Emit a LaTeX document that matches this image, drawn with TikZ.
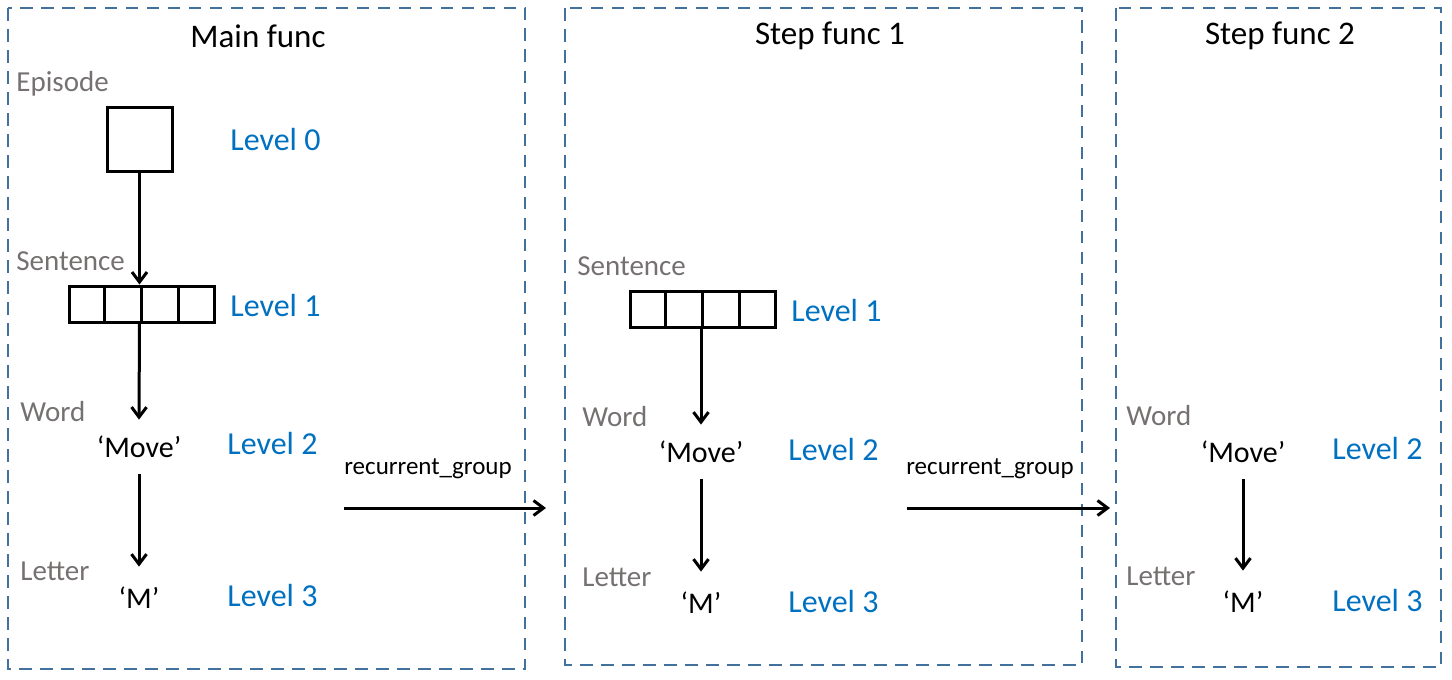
\documentclass[tikz,border=0pt]{standalone}
\usepackage{fontspec}
\setmainfont{Carlito}
\usetikzlibrary{arrows.meta,calc}
\definecolor{frameblue}{HTML}{41719C}
\definecolor{lvlblue}{HTML}{0070C0}
\definecolor{lblgray}{HTML}{767171}
\tikzset{
  frame/.style={draw=frameblue, line width=1.4pt, dash pattern=on 6.25pt off 4.25pt},
  title/.style={font=\fontsize{16.5}{20}\selectfont, inner sep=0pt},
  lvl/.style={font=\fontsize{16}{19}\selectfont, text=lvlblue, anchor=west, inner sep=0pt},
  lbl/.style={font=\fontsize{14.5}{17}\selectfont, text=lblgray, anchor=west, inner sep=0pt},
  wordtxt/.style={font=\fontsize{15}{18}\selectfont, inner sep=0pt, minimum height=27pt},
  lettxt/.style={font=\fontsize{15}{18}\selectfont, inner sep=0pt, minimum height=31pt},
  rgtxt/.style={font=\fontsize{12.5}{15}\selectfont, inner sep=0pt},
  cellbox/.style={draw, line width=1.5pt, minimum width=72.5pt, minimum height=18pt, inner sep=0pt},
  sqbox/.style={draw, line width=1.5pt, minimum width=32.5pt, minimum height=32pt, inner sep=0pt},
  arr/.style={line width=1.5pt, -{Straight Barb[length=5pt,width=7.5pt,line width=1.5pt]}},
}
\begin{document}
\begin{tikzpicture}[x=0.5pt,y=-0.5pt]
\useasboundingbox (0,0) rectangle (1452,680);
% frames
\draw[frame] (8,8) rectangle (525,669);
\draw[frame] (565,8) rectangle (1082,665);
\draw[frame] (1116,8) rectangle (1441,667);
% titles
\node[title] (t1) at (258,36) {Main func};
\node[title] (t2) at (830,36) {Step func 1};
\node[title] (t3) at (1280,36) {Step func 2};

% ---- Main func
\node[lbl] (ep) at (16,84) {Episode};
\node[sqbox] (e0) at (139.5,139) {};
\node[lvl] (l0) at (230,139) {Level 0};
\node[lbl] (se) at (16,261) {Sentence};
\node[cellbox] (s1) at (141.5,304) {};
\foreach \f in {0.25,0.5,0.75}
  \draw[line width=1.5pt] ($(s1.north west)!\f!(s1.north east)$) -- ($(s1.south west)!\f!(s1.south east)$);
\node[lvl] (l1) at (230,305) {Level 1};
\node[lbl] (wo) at (20,412) {Word};
\node[wordtxt] (mv) at (139,447) {‘Move’};
\node[lvl] (l2) at (227,443) {Level 2};
\node[lbl] (le) at (20,571) {Letter};
\node[lettxt] (m) at (139,598) {‘M’};
\node[lvl] (l3) at (227,595) {Level 3};
\draw[arr] (e0.south) -- (e0.south |- s1.north);
\draw[arr] (e0.south |- s1.south) -- (mv.north);
\draw[arr] (mv.south) -- (m.north);

% recurrent group 1
\node[rgtxt] (rg1) at (428,469) {recurrent\_group};
\coordinate (a1s) at (344,508);
\coordinate (a1e) at (546,508);
\draw[arr] (a1s) -- (a1e);

% ---- Step func 1
\node[lbl] (se2) at (577,266) {Sentence};
\node[cellbox] (s2) at (702.5,309.5) {};
\foreach \f in {0.25,0.5,0.75}
  \draw[line width=1.5pt] ($(s2.north west)!\f!(s2.north east)$) -- ($(s2.south west)!\f!(s2.south east)$);
\node[lvl] (l12) at (791,310) {Level 1};
\node[lbl] (wo2) at (582,417) {Word};
\node[wordtxt] (mv2) at (701,452) {‘Move’};
\node[lvl] (l22) at (788,449) {Level 2};
\node[lbl] (le2) at (582,577) {Letter};
\node[lettxt] (m2) at (701,603) {‘M’};
\node[lvl] (l32) at (788,601) {Level 3};
\draw[arr] (mv2.north |- s2.south) -- (mv2.north);
\draw[arr] (mv2.south) -- (m2.north);

% recurrent group 2
\node[rgtxt] (rg2) at (990,469) {recurrent\_group};
\coordinate (a2s) at (907,508);
\coordinate (a2e) at (1110,508);
\draw[arr] (a2s) -- (a2e);

% ---- Step func 2
\node[lbl] (wo3) at (1126,416) {Word};
\node[wordtxt] (mv3) at (1243,452) {‘Move’};
\node[lvl] (l23) at (1332,448) {Level 2};
\node[lbl] (le3) at (1126,576) {Letter};
\node[lettxt] (m3) at (1243,602) {‘M’};
\node[lvl] (l33) at (1332,600) {Level 3};
\draw[arr] (mv3.south) -- (m3.north);
\end{tikzpicture}
\end{document}
